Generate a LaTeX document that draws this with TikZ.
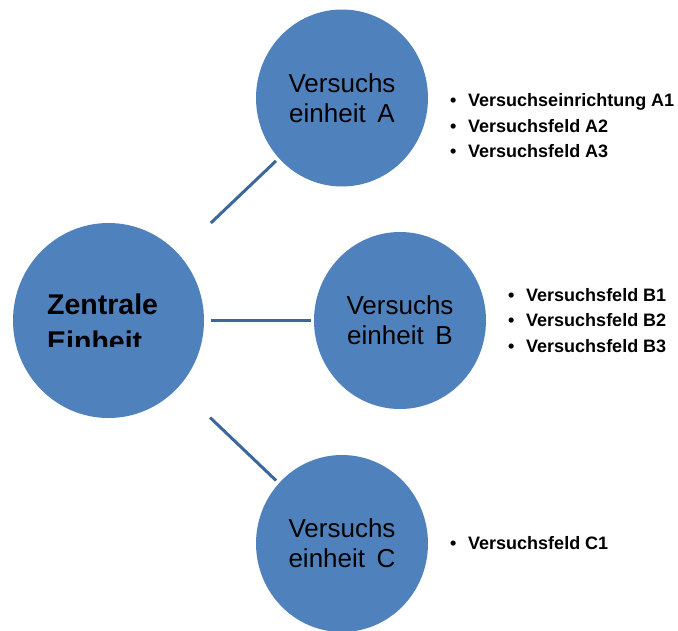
\documentclass[tikz,border=0pt]{standalone}
\usepackage{fontspec}
\setmainfont{Liberation Sans}
\usepackage{tikz}
\usetikzlibrary{positioning,shapes.geometric}
\definecolor{unitblue}{RGB}{79,129,189}
\definecolor{linkblue}{RGB}{60,103,155}

\begin{document}
\begin{tikzpicture}[x=1pt, y=-1pt,
    unit/.style={ellipse, fill=unitblue, inner sep=0pt, outer sep=0pt,
      minimum width=172pt, minimum height=177pt, align=center,
      font=\fontsize{26pt}{30pt}\selectfont},
    hub/.style={unit, minimum width=191pt, minimum height=195pt},
    hubtext/.style={inner sep=0pt, align=left,
      font=\bfseries\fontsize{28.5pt}{37pt}\selectfont},
    items/.style={inner sep=0pt, align=left,
      font=\bfseries\fontsize{18pt}{25.5pt}\selectfont},
    link/.style={draw=linkblue, line width=3pt}]
  \useasboundingbox (0,0) rectangle (678,630);

  \node[hub] (Z) at (108.5,320.5) {};
  \node[unit] (A) at (342,98) {Versuchs\\einheit\, A};
  \node[unit] (B) [right=110pt of Z] {Versuchs\\einheit\, B};
  \node[unit] (C) at (342,543.5) {Versuchs\\einheit\, C};

  \begin{scope}
    \clip (0,0) rectangle (678,346);
    \node[hubtext, anchor=base west] (Zt) at (47,351) {Zentrale\\Einheit};
  \end{scope}

  \node[items, right=22pt of A, yshift=-28pt] (LA)
    {\makebox[18pt][l]{\textbullet}Versuchseinrichtung A1\\
     \makebox[18pt][l]{\textbullet}Versuchsfeld A2\\
     \makebox[18pt][l]{\textbullet}Versuchsfeld A3};
  \node[items, right=22pt of B] (LB)
    {\makebox[18pt][l]{\textbullet}Versuchsfeld B1\\
     \makebox[18pt][l]{\textbullet}Versuchsfeld B2\\
     \makebox[18pt][l]{\textbullet}Versuchsfeld B3};
  \node[items, right=22pt of C] (LC)
    {\makebox[18pt][l]{\textbullet}Versuchsfeld C1};

  \path[link]
    (Z) edge[shorten <=45pt, shorten >=4pt] (A)
    (Z) edge[shorten <=7pt, shorten >=3pt] (B)
    (Z) edge[shorten <=44pt, shorten >=4pt] (C);
\end{tikzpicture}
\end{document}
